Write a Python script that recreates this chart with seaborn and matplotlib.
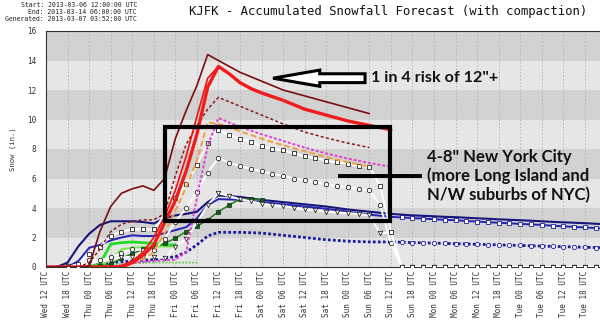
import matplotlib
matplotlib.use("Agg")
import matplotlib.pyplot as plt
import seaborn as sns
from matplotlib.patches import Rectangle, FancyArrow

sns.set_style("white")
plt.rcParams['font.family'] = ['DejaVu Sans']

# ---------------- data (hours after Wed 12 UTC, snowfall inches) ----------------
tick_hours = [0, 6, 12, 18, 24, 30, 36, 42, 48, 54, 60, 66, 72, 78, 84, 90, 96,
              102, 108, 114, 120, 126, 132, 138, 144, 150]
tick_labels = ["Wed 12 UTC", "Wed 18 UTC", "Thu 00 UTC", "Thu 06 UTC", "Thu 12 UTC",
               "Thu 18 UTC", "Fri 00 UTC", "Fri 06 UTC", "Fri 12 UTC", "Fri 18 UTC",
               "Sat 00 UTC", "Sat 06 UTC", "Sat 12 UTC", "Sat 18 UTC", "Sun 00 UTC",
               "Sun 06 UTC", "Sun 12 UTC", "Sun 18 UTC", "Mon 00 UTC", "Mon 06 UTC",
               "Mon 12 UTC", "Mon 18 UTC", "Tue 00 UTC", "Tue 06 UTC", "Tue 12 UTC",
               "Tue 18 UTC"]
y_ticks = [0, 2, 4, 6, 8, 10, 12, 14, 16]

hrs_maroon = [0, 3, 6, 9, 12, 15, 18, 21, 24, 27, 30, 33, 36, 39, 42, 45, 48, 51, 54,
              57, 60, 66, 72, 78, 84, 90]
snow_maroon = [0, 0, 0, 0, 0.05, 2.4, 4.1, 5.0, 5.3, 5.5, 5.2, 6.0, 8.7, 10.6, 12.3,
               14.4, 14.0, 13.6, 13.2, 12.9, 12.6, 12.0, 11.6, 11.2, 10.8, 10.4]

hrs_red = [0, 3, 6, 9, 12, 15, 18, 21, 24, 27, 30, 33, 36, 39, 42, 45, 48, 51, 54, 57,
           60, 66, 72, 78, 84, 90, 96]
snow_red = [0, 0, 0, 0, 0, 0, 0, 0, 0.3, 0.8, 1.5, 3.0, 4.5, 6.5, 9.0, 12.2, 13.6,
            13.1, 12.5, 12.1, 11.8, 11.3, 10.7, 10.3, 9.9, 9.6, 9.3]

hrs_red2 = [18, 21, 24, 27, 30, 33, 36, 39, 42, 45, 48]
snow_red2 = [0, 0.1, 0.4, 1.0, 2.0, 3.4, 5.2, 7.5, 10.2, 12.8, 13.6]

hrs_brown = [0, 3, 6, 9, 12, 15, 18, 21, 24, 27, 30, 33, 36, 39, 42, 45, 48, 54, 60,
             66, 72, 78, 84, 90]
snow_brown = [0, 0, 0, 0, 0.3, 1.2, 2.4, 2.9, 3.1, 3.2, 3.2, 3.6, 6.2, 8.3, 9.6, 10.7,
              11.5, 10.9, 10.3, 9.7, 9.15, 8.75, 8.4, 8.1]

hrs_magenta = [0, 3, 6, 9, 12, 15, 18, 21, 24, 27, 30, 33, 36, 39, 42, 45, 48, 51, 54,
               60, 66, 72, 78, 84, 90, 96]
snow_magenta = [0, 0, 0, 0, 0, 0, 0, 0.1, 0.25, 0.35, 0.4, 0.45, 0.5, 1.0, 4.7, 8.2,
                10.1, 9.8, 9.5, 9.0, 8.55, 8.1, 7.7, 7.35, 7.05, 6.8]

hrs_orange = [0, 3, 6, 9, 12, 15, 18, 21, 24, 27, 30, 33, 36, 39, 42, 45, 48, 51, 54,
              60, 66, 72, 78, 84, 90]
snow_orange = [0, 0, 0, 0, 0, 0, 0, 0, 0.2, 0.5, 1.0, 2.3, 3.8, 5.4, 7.2, 9.8, 9.7,
               9.5, 9.2, 8.7, 8.25, 7.85, 7.45, 7.1, 6.8]

hrs_white = [6, 9, 12, 15, 18, 21, 24, 27, 30, 33, 36, 39, 42, 45, 48, 51, 54, 57, 60,
             63, 66, 69, 72, 75, 78, 81, 84, 87, 90, 93, 96, 99, 102, 105, 108, 111,
             114, 117, 120, 123, 126, 129, 132, 135, 138, 141, 144, 147, 150, 153, 156]
snow_wsquare = [0, 0.2, 0.9, 1.35, 2.1, 2.4, 2.55, 2.55, 2.55, 3.5, 4.7, 5.6, 6.9, 8.4,
                9.3, 8.95, 8.7, 8.5, 8.2, 8.0, 7.9, 7.7, 7.5, 7.4, 7.2, 7.1, 7.0, 6.85,
                6.8, 5.5, 2.4, 0, 0, 0, 0, 0, 0, 0, 0, 0, 0, 0, 0, 0, 0, 0, 0, 0, 0,
                0, 0]
snow_wcircle = [0, 0.1, 0.45, 0.45, 0.65, 0.95, 1.2, 1.15, 1.15, 1.9, 3.05, 4.0, 5.1,
                6.4, 7.4, 7.05, 6.85, 6.65, 6.5, 6.3, 6.2, 6.0, 5.9, 5.75, 5.6, 5.5,
                5.4, 5.3, 5.2, 4.2, 1.6, 0, 0, 0, 0, 0, 0, 0, 0, 0, 0, 0, 0, 0, 0, 0,
                0, 0, 0, 0, 0]
snow_wtri = [0.05, 0.1, 0.3, 0.35, 0.5, 0.65, 0.7, 0.7, 0.7, 0.6, 1.35, 1.9, 3.0, 4.2,
             5.0, 4.8, 4.6, 4.45, 4.3, 4.2, 4.15, 4.0, 3.9, 3.85, 3.75, 3.7, 3.65, 3.6,
             3.5, 2.3, 2.3, 0, 0, 0, 0, 0, 0, 0, 0, 0, 0, 0, 0, 0, 0, 0, 0, 0, 0, 0, 0]

hrs_navy = [0, 3, 6, 9, 12, 15, 18, 21, 24, 27, 30, 33, 36, 39, 42, 45, 48, 54, 60, 66,
            72, 78, 84, 90, 96, 99, 102, 105, 108, 111, 114, 117, 120, 123, 126, 129,
            132, 135, 138, 141, 144, 147, 150, 153, 156]
snow_navy1 = [0, 0, 0.3, 1.4, 2.25, 2.85, 3.1, 3.1, 3.1, 3.05, 2.95, 3.3, 3.5, 3.6, 3.75,
              4.4, 4.85, 4.75, 4.55, 4.4, 4.25, 4.1, 3.9, 3.75, 3.6, 3.55, 3.5, 3.47,
              3.44, 3.4, 3.38, 3.34, 3.3, 3.27, 3.23, 3.2, 3.17, 3.14, 3.1, 3.06, 3.03,
              3.0, 2.97, 2.93, 2.9]
snow_navy2 = [0, 0, 0, 0.4, 1.3, 1.5, 1.8, 2.0, 2.15, 2.1, 2.1, 2.3, 2.5, 2.7, 3.3, 4.2,
              4.6, 4.55, 4.4, 4.25, 4.1, 3.95, 3.75, 3.55, 3.4, 3.36, 3.32, 3.28, 3.24,
              3.2, 3.17, 3.12, 3.08, 3.04, 3.0, 2.96, 2.92, 2.89, 2.85, 2.8, 2.76, 2.72,
              2.68, 2.64, 2.6]
snow_navydot = [0, 0, 0, 0, 0, 0.2, 0.3, 0.35, 0.4, 0.45, 0.5, 0.6, 0.7, 1.0, 1.5, 2.1,
                2.35, 2.35, 2.3, 2.15, 2.0, 1.85, 1.75, 1.7, 1.7, 1.68, 1.66, 1.64, 1.62,
                1.6, 1.58, 1.56, 1.54, 1.52, 1.5, 1.48, 1.46, 1.44, 1.42, 1.4, 1.38,
                1.36, 1.34, 1.32, 1.3]

hrs_dkgreen = [12, 15, 18, 21, 24, 27, 30, 33, 36, 39, 42, 45, 48, 51, 54, 57, 60]
snow_dkgreen = [0, 0.05, 0.2, 0.6, 0.9, 1.2, 1.35, 1.6, 1.95, 2.4, 2.75, 3.2, 3.75, 4.2,
                4.6, 4.6, 4.55]

hrs_lime = [12, 15, 18, 21, 24, 27, 30, 33, 36]
snow_lime1 = [0, 0.2, 1.55, 1.65, 1.7, 1.65, 1.6, 1.5, 1.5]
snow_lime2 = [0, 0.1, 0.5, 1.2, 1.3, 1.35, 1.4, 1.4, 1.4]

hrs_ltgreen = [12, 18, 24, 30, 36, 42]
snow_ltgreen = [0, 0.15, 0.25, 0.3, 0.3, 0.3]

# ---------------- figure ----------------
W, H = 600, 324
fig = plt.figure(figsize=(W / 100, H / 100), dpi=100)
ax = fig.add_axes([46 / W, 57 / H, 554 / W, 236 / H])
ax.set_xlim(0, 154.2)
ax.set_ylim(0, 16)

ax.set_facecolor("#e6e6e6")
for lo in [2, 6, 10, 14]:
    ax.axhspan(lo, lo + 2, color="#d2d2d2", zorder=0, lw=0)
for t in tick_hours[1:]:
    ax.axvline(t, color="#b5b5b5", lw=0.7, ls=(0, (1.5, 2)), zorder=0.5)


def line(x, y, **kw):
    assert len(x) == len(y)
    sns.lineplot(x=x, y=y, ax=ax, errorbar=None, sort=False, **kw)


late = [i for i, h in enumerate(hrs_navy) if h >= 99]

# blues
line(hrs_navy, snow_navydot, color="#1c1c9c", lw=2.0, ls=(0, (1, 0.8)), zorder=2,
     marker="o", markersize=3.0, markerfacecolor="white", markeredgecolor="#1c1c9c",
     markeredgewidth=0.6, markevery=late)
line(hrs_navy, snow_navy2, color="#2323b8", lw=1.4, zorder=2,
     marker="s", markersize=2.8, markerfacecolor="white", markeredgecolor="#1c1c9c",
     markeredgewidth=0.6, markevery=late)
line(hrs_navy, snow_navy1, color="#15157a", lw=1.5, zorder=2)

# greens
line(hrs_ltgreen, snow_ltgreen, color="#55cc33", lw=1.2, ls=(0, (1, 1)), zorder=2)
line(hrs_lime, snow_lime2, color="#77ee44", lw=1.5, zorder=2)
line(hrs_lime, snow_lime1, color="#22dd22", lw=2.0, zorder=2)
line(hrs_dkgreen, snow_dkgreen, color="#1f7f1f", lw=1.1, zorder=3, marker="s",
     markersize=2.8, markerfacecolor="#1a5a1a", markeredgecolor="#0a300a",
     markeredgewidth=0.5)

# white members
wkw = dict(color="white", lw=1.4, zorder=4, markersize=3.2, markerfacecolor="white",
           markeredgecolor="#222222", markeredgewidth=0.6)
line(hrs_white, snow_wtri, marker="v", **wkw)
line(hrs_white, snow_wcircle, marker="o", **wkw)
line(hrs_white, snow_wsquare, marker="s", **wkw)

# warm colours
line(hrs_orange, snow_orange, color="#f0a040", lw=1.4, ls=(0, (3, 1.5)), zorder=5)
line(hrs_magenta, snow_magenta, color="#e040d0", lw=1.4, ls=(0, (1.5, 1)), zorder=5)
line(hrs_brown, snow_brown, color="#8b1a1a", lw=1.1, ls=(0, (2, 1.5)), zorder=5)
line(hrs_red2, snow_red2, color="#ee1111", lw=1.2, zorder=5)
line(hrs_red, snow_red, color="#ee1c1c", lw=2.4, zorder=6)
line(hrs_maroon, snow_maroon, color="#7a0e0e", lw=1.2, zorder=6)

# ---------------- axes styling ----------------
ax.set_xticks(tick_hours)
ax.set_xticklabels(tick_labels, rotation=90, fontsize=5.5, family="DejaVu Sans Mono",
                   color="#333333")
ax.set_xticks([h for h in range(0, 155)], minor=True)
ax.set_yticks(y_ticks)
ax.set_yticklabels([str(v) for v in y_ticks], fontsize=5.5, family="DejaVu Sans Mono",
                   color="#333333")
ax.set_yticks(list(range(1, 16, 2)), minor=True)
ax.tick_params(axis="x", which="major", direction="in", length=4, pad=3,
               color="#333333", width=0.7)
ax.tick_params(axis="x", which="minor", direction="in", length=2, color="#333333",
               width=0.5)
ax.tick_params(axis="y", which="both", direction="in", length=3, pad=7,
               color="#333333", width=0.7)
ax.set_xlabel("")
ax.set_ylabel("Snow (in.)", fontsize=5.2, family="DejaVu Sans Mono", color="#333333",
              labelpad=8)
for s in ["left", "bottom", "top"]:
    ax.spines[s].set_color("#333333")
    ax.spines[s].set_linewidth(0.8)
ax.spines["right"].set_visible(False)

# ---------------- header text ----------------
hdr = dict(fontsize=4.7, family="DejaVu Sans Mono", color="#222222", ha="right",
           va="center")
fig.text(137 / W, 1 - 5 / H, "Start: 2013-03-06 12:00:00 UTC", **hdr)
fig.text(137 / W, 1 - 12 / H, "End: 2013-03-14 06:00:00 UTC", **hdr)
fig.text(137 / W, 1 - 19 / H, "Generated: 2013-03-07 03:52:00 UTC", **hdr)
fig.text(388 / W, 1 - 12 / H, "KJFK - Accumulated Snowfall Forecast (with compaction)",
         fontsize=8.8, family="DejaVu Sans Mono", color="#111111", ha="center",
         va="center")

# ---------------- annotations ----------------
ARROW_TAIL_H, ARROW_TIP_H, ARROW_V = 88.8, 63.2, 12.8
ax.add_patch(FancyArrow(ARROW_TAIL_H, ARROW_V, ARROW_TIP_H - ARROW_TAIL_H, 0,
                        width=0.6, head_width=1.1, head_length=13,
                        length_includes_head=True, facecolor="white",
                        edgecolor="black", lw=2.2, zorder=10))
ax.text(90.5, ARROW_V, "1 in 4 risk of 12\"+", fontsize=11.6, family="Lato",
        weight="bold", color="#111111", ha="left", va="center", zorder=11)

BOX_H0, BOX_H1, BOX_V0, BOX_V1 = 33.1, 95.7, 3.15, 9.5
ax.add_patch(Rectangle((BOX_H0, BOX_V0), BOX_H1 - BOX_H0, BOX_V1 - BOX_V0, fill=False,
                       edgecolor="black", lw=3.0, zorder=10))
ax.plot([81.3, 104.6], [6.15, 6.15], color="black", lw=2.8, zorder=10,
        solid_capstyle="butt")
ax.text(106.0, 6.15, "4-8\" New York City\n(more Long Island and\nN/W suburbs of NYC)",
        fontsize=12, family="Lato", weight="bold", color="#111111", ha="left",
        va="center", linespacing=1.22, zorder=11)

fig.savefig("out.png", dpi=100, facecolor="white")
